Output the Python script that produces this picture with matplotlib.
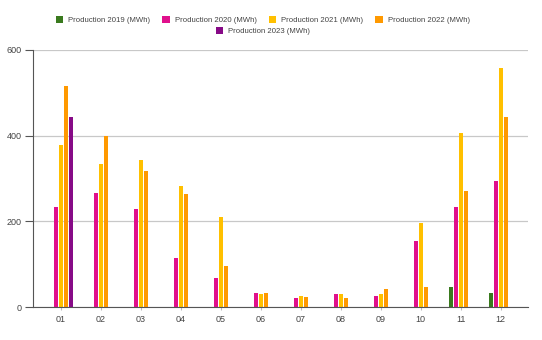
import matplotlib.pyplot as plt
import numpy as np

months = ['01', '02', '03', '04', '05', '06', '07', '08', '09', '10', '11', '12']
series_names = ['Production 2019 (MWh)', 'Production 2020 (MWh)', 'Production 2021 (MWh)',
                'Production 2022 (MWh)', 'Production 2023 (MWh)']
prod_2019 = [None, None, None, None, None, None, None, None, None, None, 47, 33]
prod_2020 = [234, 267, 229, 114, 68, 32, 20, 30, 26, 153, 234, 294]
prod_2021 = [378, 334, 343, 283, 209, 30, 26, 30, 30, 195, 407, 557]
prod_2022 = [516, 400, 317, 263, 95, 32, 23, 22, 41, 46, 271, 443]
prod_2023 = [443, None, None, None, None, None, None, None, None, None, None, None]
colors = ['#3a7a1e', '#e0108c', '#ffc000', '#ff9900', '#870a87']

plt.rcParams['font.family'] = ['Liberation Sans', 'DejaVu Sans']

fig = plt.figure(figsize=(5.42, 3.4), dpi=100)
ax = fig.add_axes([0.061, 0.097, 0.913, 0.756])

x = np.arange(len(months))
slot = 0.125
handles = []
for k, (vals, c) in enumerate(zip([prod_2019, prod_2020, prod_2021, prod_2022, prod_2023], colors)):
    v = np.array([np.nan if val is None else val for val in vals], dtype=float)
    b = ax.bar(x + (k - 2) * slot, v, width=0.1, color=c, label=series_names[k])
    handles.append(b)

ax.set_xlim(-0.7, 11.68)
ax.set_ylim(0, 600)
ax.set_yticks([0, 200, 400, 600])
ax.set_xticks(x)
ax.set_xticklabels(months)
ax.yaxis.grid(True, color='#c8c8c8', linewidth=0.9)
ax.set_axisbelow(True)
for s in ['top', 'right']:
    ax.spines[s].set_visible(False)
ax.spines['left'].set_color('#555555')
ax.spines['bottom'].set_color('#555555')
ax.tick_params(axis='y', length=6, color='#555555', labelsize=6.5, labelcolor='#444444', pad=2)
ax.tick_params(axis='x', length=4, direction='inout', color='#bbbbbb', labelsize=6.5, labelcolor='#444444', pad=4)

leg_kw = dict(frameon=False, fontsize=5.6, handlelength=0.95, handleheight=0.95,
              handletextpad=0.65, columnspacing=1.55, labelcolor='#444444')
fig.legend(handles[:4], series_names[:4], loc='center', bbox_to_anchor=(0.485, 0.941), ncol=4, **leg_kw)
fig.legend(handles[4:], series_names[4:], loc='center', bbox_to_anchor=(0.485, 0.909), ncol=1, **leg_kw)

fig.savefig('out.png', dpi=100)
